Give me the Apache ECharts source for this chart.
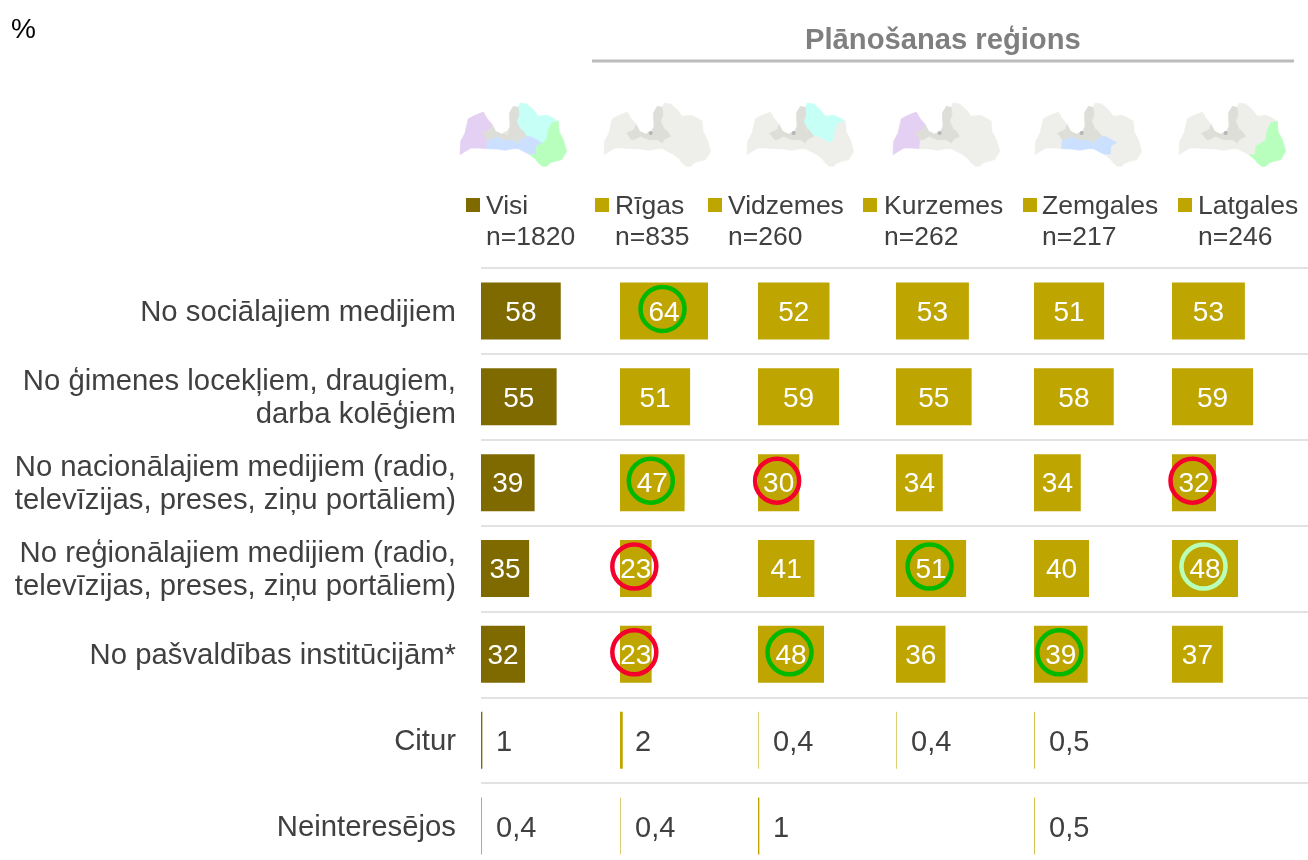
<!DOCTYPE html>
<html><head><meta charset="utf-8">
<style>html,body{margin:0;padding:0;background:#fff}#c{width:1308px;height:860px}</style>
<script src="https://cdn.jsdelivr.net/npm/echarts@6/dist/echarts.min.js"></script>
</head><body><div id="c"></div>
<script>
const categories = ['No sociālajiem medijiem','No ģimenes locekļiem, draugiem,\ndarba kolēģiem','No nacionālajiem medijiem (radio,\ntelevīzijas, preses, ziņu portāliem)','No reģionālajiem medijiem (radio,\ntelevīzijas, preses, ziņu portāliem)','No pašvaldības institūcijām*','Citur','Neinteresējos'];
const groupNames = ['Visi','Rīgas','Vidzemes','Kurzemes','Zemgales','Latgales'];
const groupN = ['n=1820','n=835','n=260','n=262','n=217','n=246'];
const visi     = [58,55,39,35,32,1,0.4];
const rigas    = [64,51,47,23,23,2,0.4];
const vidzemes = [52,59,30,41,48,0.4,1];
const kurzemes = [53,55,34,51,36,0.4,null];
const zemgales = [51,58,34,40,39,0.5,0.5];
const latgales = [53,59,32,48,37,null,null];
const columns = [visi,rigas,vidzemes,kurzemes,zemgales,latgales];
// circled cells: [column, row]
const higherMarks = [[1,0],[1,2],[3,3],[2,4],[4,4]];
const lowerMarks  = [[2,2],[5,2],[1,3],[1,4]];
const paleMarks   = [[5,3]];

const TEXT='#404040', FONT='"Liberation Sans", Arial, sans-serif';
const colX=[481,620,758,896,1034,1172];
const GT=268, GH=601;
const swatchX=[466,595,708,863,1023,1178];
const legendX=[486,615,728,884,1042,1198];
const mapX=[455,599,742,888,1030,1174];

// decorative map outlines of the planning regions (3x local units)
const kurzemeShape=[[15,170],[17,130],[30,105],[40,62],[60,52],[85,42],[95,60],[112,80],[105,95],[83,105],[97,125],[95,152],[70,150],[48,150],[28,162]];
const rigaShape=[[83,105],[105,95],[112,80],[122,100],[140,108],[158,100],[165,85],[163,45],[175,25],[190,28],[192,50],[185,70],[195,92],[205,100],[215,115],[195,125],[190,135],[175,125],[150,125],[135,120],[125,115],[105,125],[97,125]];
const vidzemeShape=[[190,28],[195,15],[215,18],[235,35],[250,55],[275,52],[290,58],[310,70],[290,75],[280,95],[275,125],[262,135],[245,125],[225,115],[215,115],[205,100],[195,92],[185,70],[192,50]];
const zemgaleShape=[[97,125],[105,125],[125,115],[135,120],[150,125],[175,125],[190,135],[195,125],[215,115],[225,115],[245,125],[262,135],[245,145],[243,170],[225,170],[205,160],[190,152],[175,152],[150,157],[125,153],[95,152]];
const latgaleShape=[[290,75],[310,70],[312,100],[325,125],[335,160],[320,185],[300,190],[285,195],[275,205],[262,205],[250,195],[243,185],[225,170],[243,170],[245,145],[262,135],[275,125],[280,95]];
const BASE='#eeefeb', RIGA='#deded9';
const mapColors=[
 {k:'#e4d0f2',v:'#c6fff5',z:'#cbe0ff',l:'#b8ffbe',c:'#e8e8e0'},
 {k:BASE,v:BASE,z:BASE,l:BASE,c:'#b5b5b8'},
 {k:BASE,v:'#c6fff5',z:BASE,l:BASE,c:'#b5b5b8'},
 {k:'#e4d0f2',v:BASE,z:BASE,l:BASE,c:'#b5b5b8'},
 {k:BASE,v:BASE,z:'#cbe0ff',l:BASE,c:'#b5b5b8'},
 {k:BASE,v:BASE,z:BASE,l:'#b8ffbe',c:'#b5b5b8'}];
const poly=(pts,fill)=>({type:'polygon',shape:{points:pts},style:{fill,stroke:fill,lineWidth:2}});

const graphic=[{type:'line',shape:{x1:592,y1:61,x2:1294,y2:61},style:{stroke:'#bcbcbc',lineWidth:3}}];
groupNames.forEach((n,i)=>{
  const m=mapColors[i];
  graphic.push({type:'group',x:mapX[i],y:98,scaleX:1/3,scaleY:1/3,silent:true,children:[
    poly(kurzemeShape,m.k),poly(vidzemeShape,m.v),poly(zemgaleShape,m.z),poly(latgaleShape,m.l),poly(rigaShape,RIGA),
    {type:'circle',shape:{cx:155,cy:105,r:6},style:{fill:m.c}}]});
  graphic.push({type:'rect',shape:{x:swatchX[i],y:198,width:14,height:14},style:{fill:i===0?'#7f6a00':'#bfa500'}});
  graphic.push({type:'text',x:legendX[i],y:191,style:{text:n+'\n'+groupN[i],fill:TEXT,font:'26.5px '+FONT,lineHeight:31}});
});

// grid 0 carries the row rules; grid 1 carries the row labels; then one grid per column
const grids=[{left:481,top:GT,width:827,height:GH,outerBoundsMode:'none'},{left:481,top:GT+2,width:827,height:GH,outerBoundsMode:'none'}];
const xAxes=[{gridIndex:0,type:'value',show:false,min:0,max:100},{gridIndex:1,type:'value',show:false,min:0,max:100}];
const yAxes=[{gridIndex:0,type:'category',inverse:true,data:categories,axisLine:{show:false},axisTick:{show:false},
    axisLabel:{show:false},splitLine:{show:true,lineStyle:{color:'#e2e2e2',width:2}}},
  {gridIndex:1,type:'category',inverse:true,data:categories,axisLine:{show:false},axisTick:{show:false},splitLine:{show:false},
    axisLabel:{color:TEXT,fontSize:29.3,fontFamily:FONT,lineHeight:33,margin:25,align:'right'}}];
const series=[];
const fmt=v=>String(v).replace('.',',');
columns.forEach((vals,i)=>{
  const g=i+2;
  grids.push({left:colX[i],top:GT,width:137.5,height:GH,outerBoundsMode:'none'});
  xAxes.push({gridIndex:g,type:'value',show:false,min:0,max:100});
  yAxes.push({gridIndex:g,type:'category',inverse:true,data:categories,axisLine:{show:false},axisTick:{show:false},splitLine:{show:false},axisLabel:{show:false}});
  series.push({type:'bar',name:groupNames[i],xAxisIndex:g,yAxisIndex:g,barWidth:57,silent:true,z:2,
    itemStyle:{color:i===0?'#7f6a00':'#bfa500'},
    data:vals.map(v=>v===null?null:{value:v,label:v>=10
      ?{show:true,position:'inside',offset:[0,2],color:'#fff',fontSize:28,fontFamily:FONT,formatter:fmt(v)}
      :{show:true,position:[15,'50%'],align:'left',verticalAlign:'middle',offset:[0,3],color:TEXT,fontSize:29,fontFamily:FONT,formatter:fmt(v)}})});
  [[higherMarks,'#00b800'],[lowerMarks,'#f5002d'],[paleMarks,'#b8ffb8']].forEach(([marks,col])=>{
    const pts=marks.filter(m=>m[0]===i).map(m=>[vals[m[1]]/2,m[1]]);
    if(pts.length) series.push({type:'scatter',xAxisIndex:g,yAxisIndex:g,silent:true,z:5,clip:false,symbol:'circle',symbolSize:44,symbolOffset:[-1.5,-2],
      itemStyle:{color:'rgba(0,0,0,0)',borderColor:col,borderWidth:4.5,opacity:1},data:pts});
  });
});

const chart=echarts.init(document.getElementById('c'),null,{renderer:'canvas'});
chart.setOption({animation:false,backgroundColor:'#fff',
  title:[{text:'%',left:6,top:11,textStyle:{color:'#000',fontSize:28,fontWeight:'normal',fontFamily:FONT}},
         {text:'Plānošanas reģions',left:800,top:21,textStyle:{color:'#7f7f7f',fontSize:29.2,fontWeight:'bold',fontFamily:FONT}}],
  grid:grids,xAxis:xAxes,yAxis:yAxes,series,graphic});
</script></body></html>
